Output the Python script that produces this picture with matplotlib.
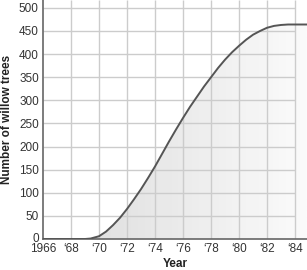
import numpy as np
import matplotlib
matplotlib.use("Agg")
import matplotlib.pyplot as plt
from matplotlib.path import Path
from matplotlib.patches import PathPatch
from matplotlib.colors import LinearSegmentedColormap
import matplotlib.transforms as mtransforms

years = [1966, 1968, 1969, 1969.4, 1970, 1970.5, 1971, 1971.5, 1972, 1972.5, 1973, 1973.5,
         1974, 1974.5, 1975, 1975.5, 1976, 1976.5, 1977, 1977.5, 1978, 1978.5, 1979,
         1979.5, 1980, 1980.5, 1981, 1981.5, 1982, 1982.5, 1983, 1983.5, 1984, 1985]
trees = [0, 0, 0, 1, 6, 16, 30, 46, 65, 86, 108, 132,
         157, 184, 211, 237, 262, 286, 308, 330, 350, 370, 388,
         404, 418, 431, 442, 450, 457, 461, 463, 464, 464, 464]
xtick_pos = [1966, 1968, 1970, 1972, 1974, 1976, 1978, 1980, 1982, 1984]
xtick_labels = ["1966", "\u201868", "\u201870", "\u201872", "\u201874", "\u201876",
                "\u201878", "\u201880", "\u201882", "\u201884"]
ytick_pos = [0, 50, 100, 150, 200, 250, 300, 350, 400, 450, 500]

plt.rcParams['font.family'] = ['Liberation Sans', 'DejaVu Sans']

fig = plt.figure(figsize=(3.07, 2.70), dpi=100)
ax = fig.add_axes([43/307, 31/270, 1 - 43/307, 1 - 31/270])
ax.set_xlim(1966, 1984.85)
ax.set_ylim(0, 517)

# grid
ax.hlines(ytick_pos[1:], 1966, 1984, color="#cccccc", lw=1.0, zorder=1)
ax.vlines(xtick_pos[1:], 0, 517, color="#cccccc", lw=1.0, zorder=1)

# gradient fill under curve
grad = np.linspace(0, 1, 256).reshape(1, -1)
cmap = LinearSegmentedColormap.from_list("g", ["#d4d4d4", "#fbfbfb"])
im = ax.imshow(grad, extent=[1966, 1984.85, 0, 517], aspect="auto", cmap=cmap,
               zorder=0.5, alpha=0.85)
verts = [(years[0], 0)] + list(zip(years, trees)) + [(years[-1], 0)]
clip = PathPatch(Path(verts), transform=ax.transData, facecolor="none", edgecolor="none")
ax.add_patch(clip)
im.set_clip_path(clip)

ax.plot(years, trees, color="#555555", lw=1.4, zorder=3, solid_capstyle="round",
        solid_joinstyle="round")

for s in ["top", "right"]:
    ax.spines[s].set_visible(False)
ax.spines["left"].set_color("#666666")
ax.spines["bottom"].set_color("#666666")
ax.spines["left"].set_linewidth(1.2)
ax.spines["bottom"].set_linewidth(1.2)

ax.set_xticks(xtick_pos)
ax.set_xticklabels(xtick_labels)
ax.set_yticks(ytick_pos)
ax.tick_params(length=0, labelsize=8.5, labelcolor="#333333", pad=3)
ax.tick_params(axis="x", pad=3)

# nudge the y "0" label up slightly so it sits above "1966"
lbl0 = ax.get_yticklabels()[0]
lbl0.set_transform(lbl0.get_transform() + mtransforms.ScaledTranslation(0, 2/100, fig.dpi_scale_trans))

ax.set_xlabel("Year", fontsize=8.5, fontweight="bold", color="#222222", labelpad=2)
ax.set_ylabel("Number of willow trees", fontsize=8.5, fontweight="bold", color="#222222", labelpad=4)

fig.savefig("out.png", dpi=100)
